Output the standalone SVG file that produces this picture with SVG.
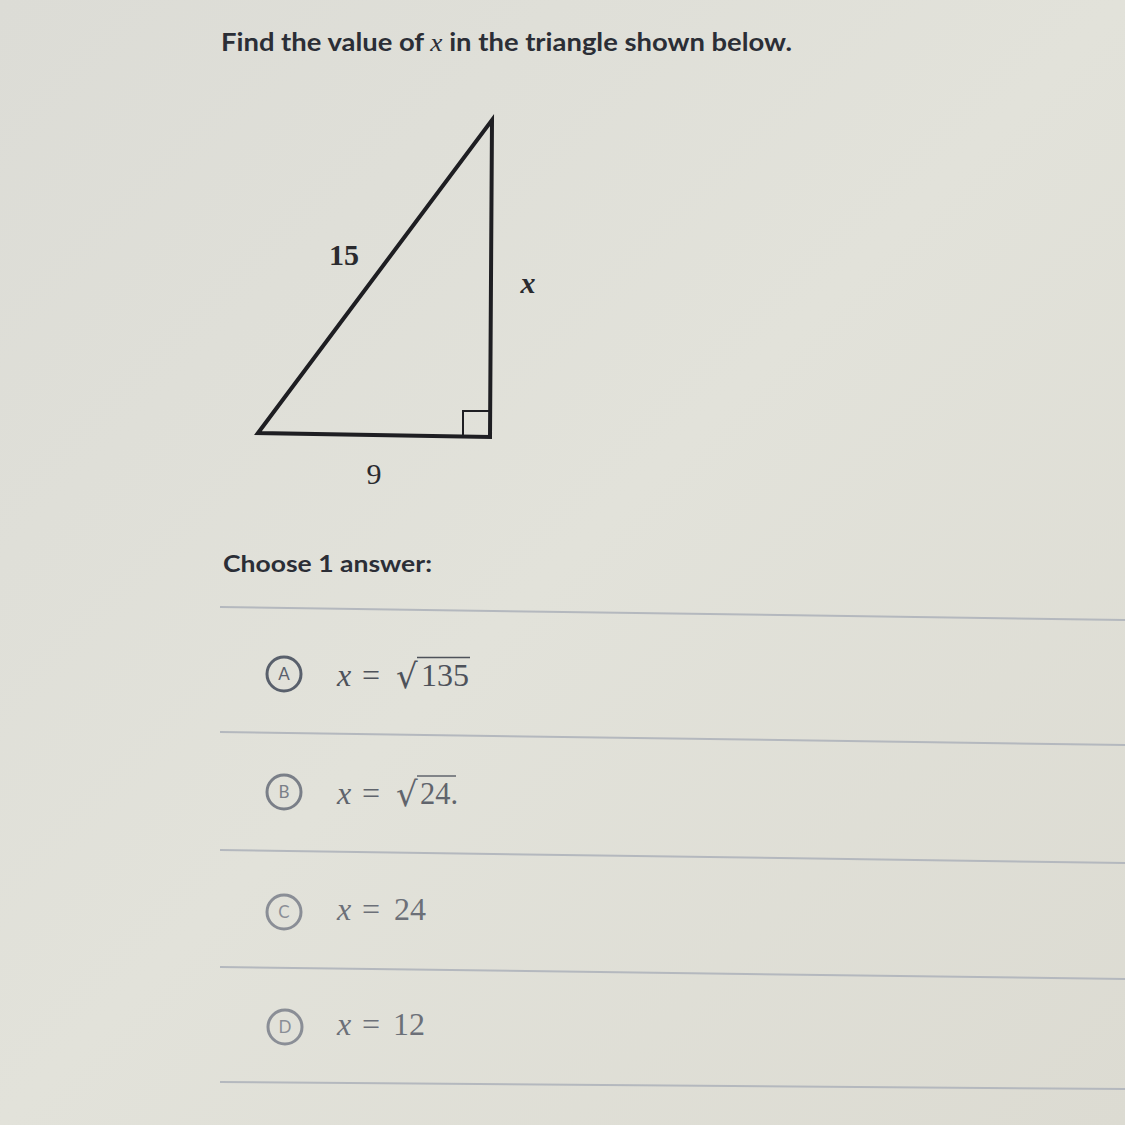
<svg xmlns="http://www.w3.org/2000/svg" width="1125" height="1125" viewBox="0 0 1125 1125">
<defs>
<linearGradient id="bg" x1="0" y1="0" x2="1" y2="1">
<stop offset="0" stop-color="#dcdcd6"/>
<stop offset="0.5" stop-color="#e2e2da"/>
<stop offset="1" stop-color="#dcdbd2"/>
</linearGradient>
<style>
.title{font-family:Lato,"Liberation Sans",sans-serif;font-weight:bold;fill:#2b2e36}
.lbl{font-family:"Liberation Serif","DejaVu Serif",serif;fill:#2a2a2e}
.ans{font-family:"Liberation Serif","DejaVu Serif",serif;font-size:32px}
.rad{font-family:"DejaVu Serif","Liberation Serif",serif;font-size:34px}
.sep{stroke:#b4b8be;stroke-width:2;fill:none}
.circ{fill:none;stroke-width:3}
.letter{font-family:Lato,"Liberation Sans",sans-serif;font-size:17px;text-anchor:middle}
</style>
</defs>
<rect width="1125" height="1125" fill="url(#bg)"/>
<text class="title" x="221" y="51" font-size="25" textLength="571" lengthAdjust="spacingAndGlyphs">Find the value of <tspan font-family="Liberation Serif,serif" font-style="italic" font-weight="normal">x</tspan> in the triangle shown below.</text>
<g id="triangle">
<polygon points="258,433 492,120 490,437" fill="none" stroke="#1e1e22" stroke-width="4" stroke-linejoin="miter"/>
<polyline points="463,436 463,411 490,411" fill="none" stroke="#1e1e22" stroke-width="2"/>
<text class="lbl" x="344" y="265" font-size="30" font-weight="bold" text-anchor="middle">15</text>
<text class="lbl" x="528" y="293" font-size="30" font-style="italic" font-weight="bold" text-anchor="middle">x</text>
<text class="lbl" x="374" y="484" font-size="30" text-anchor="middle">9</text>
</g>
<text class="title" x="223" y="572" font-size="23" textLength="209" lengthAdjust="spacingAndGlyphs">Choose 1 answer:</text>
<g id="separators">
<line class="sep" x1="220" y1="607" x2="1125" y2="620"/>
<line class="sep" x1="220" y1="732" x2="1125" y2="745"/>
<line class="sep" x1="220" y1="850" x2="1125" y2="863"/>
<line class="sep" x1="220" y1="967" x2="1125" y2="979"/>
<line class="sep" x1="220" y1="1082" x2="1125" y2="1089"/>
</g>
<g id="optA" fill="#4e525a">
<circle class="circ" cx="284" cy="674" r="17" stroke="#59606c"/>
<text class="letter" x="284" y="680" fill="#59606c">A</text>
<text class="ans" x="337" y="686" font-style="italic">x</text>
<text class="ans" x="362" y="686">=</text>
<text class="rad" x="396" y="688">√</text>
<text class="ans" x="421" y="686" textLength="48" lengthAdjust="spacingAndGlyphs">135</text>
<line x1="417" y1="657.5" x2="470" y2="657.5" stroke="#4e525a" stroke-width="1.5"/>
</g>
<g id="optB" fill="#60646c">
<circle class="circ" cx="284" cy="792" r="17" stroke="#7a7f88"/>
<text class="letter" x="284" y="798" fill="#7a7f88">B</text>
<text class="ans" x="337" y="804" font-style="italic">x</text>
<text class="ans" x="362" y="804">=</text>
<text class="rad" x="396" y="806">√</text>
<text class="ans" x="420" y="804" textLength="38" lengthAdjust="spacingAndGlyphs">24.</text>
<line x1="417" y1="776" x2="456" y2="776" stroke="#60646c" stroke-width="1.5"/>
</g>
<g id="optC" fill="#6c7078">
<circle class="circ" cx="284" cy="912" r="17" stroke="#8a8e96"/>
<text class="letter" x="284" y="918" fill="#8a8e96">C</text>
<text class="ans" x="337" y="920" font-style="italic">x</text>
<text class="ans" x="362" y="920">=</text>
<text class="ans" x="394" y="920" textLength="32" lengthAdjust="spacingAndGlyphs">24</text>
</g>
<g id="optD" fill="#6c7078">
<circle class="circ" cx="285" cy="1027" r="17" stroke="#8a8e96"/>
<text class="letter" x="285" y="1033" fill="#8a8e96">D</text>
<text class="ans" x="337" y="1035" font-style="italic">x</text>
<text class="ans" x="362" y="1035">=</text>
<text class="ans" x="393" y="1035" textLength="32" lengthAdjust="spacingAndGlyphs">12</text>
</g>
</svg>
